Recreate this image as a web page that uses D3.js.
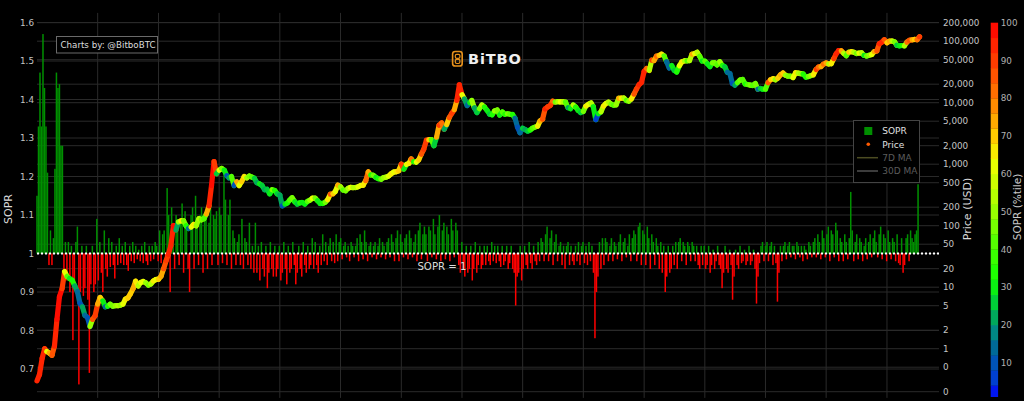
<!DOCTYPE html>
<html><head><meta charset="utf-8">
<script src="https://cdn.jsdelivr.net/npm/d3@7"></script>
<style>html,body{margin:0;padding:0;background:#000;}svg{display:block;}</style>
</head><body>
<svg id="chart" width="1024" height="401"></svg>
<script>
// ---------- DATA ----------
// Price (USD), sampled on the 1st and 16th of every month from Jan 2011
const priceValues = [
0.30,0.38,0.70,1.00,0.90,0.85,0.78,1.10,3.0,7.0,9.5,18,15,13.8,13,10.5,8.5,5.5,4.8,3.5,3.2,2.3,3.0,3.4,
5.3,6.8,6.0,4.8,4.9,5.3,4.9,5.0,5.0,5.1,5.3,6.4,6.7,7.8,9.5,12.5,10.5,11.9,12.4,11.8,10.8,11.3,12.6,13.3,
13.5,15,20,27,34,47,100,85,115,120,120,100,90,95,105,100,130,125,130,155,210,450,1100,700,
800,850,800,650,600,630,450,520,450,520,630,600,640,620,590,500,480,450,385,390,330,385,375,330,
315,210,225,235,260,285,245,225,235,238,225,248,260,280,280,255,230,230,240,265,325,330,360,455,
430,380,370,405,420,415,418,430,450,455,540,750,670,660,610,580,570,605,615,640,700,745,755,780,
1000,830,990,1035,1220,1100,1080,1180,1450,1750,2450,2500,2500,2000,2750,4300,4700,3700,4400,5700,6750,7700,10900,19500,
13500,11500,9000,10000,10900,8300,6900,8000,9200,8500,7500,6500,6350,7350,7600,6300,7050,6500,6600,6500,6400,5600,4000,3250,
3850,3650,3450,3600,3850,4000,4150,5050,5400,7900,8550,9000,10600,10200,10400,10300,10300,10200,8300,8000,9200,8500,7500,6900,
7200,8800,9400,9900,8600,5300,6600,7100,8800,9700,10200,9500,9100,9200,11800,11900,11900,10900,10600,11500,13800,16700,19600,21300,
32200,36000,33500,49000,48400,56800,58800,61400,57800,46400,36700,40200,33500,31500,39900,46000,48000,48000,48200,61500,63000,66000,57000,47600,
47300,43000,38700,44500,44400,41100,46300,40400,38500,31300,29800,20500,19300,21200,23300,23900,20100,19700,19300,19100,20500,16600,17000,16600,
16600,21100,23700,24600,23600,25000,28400,30300,28000,27000,27000,25600,30600,30300,29700,29200,26000,26600,27500,28500,34600,37900,38700,42300,
44200,42600,43100,52000,62400,70000,69700,63400,58200,66200,67500,66100,62900,64100,64600,58900,57300,59100,60600,67600,69500,91000,96400,106000,
94400,100000,100600,97500,86000,84000,85000,84000,96500,103500,105000,106800,105700,118000
];
// SOPR percentile (colour of each price sample)
const pricePercentile = [
95,95,92,90,60,75,85,95,98,98,90,60,40,30,35,20,15,10,20,15,10,50,85,88,
75,70,30,15,35,45,45,50,55,50,60,65,70,70,75,65,55,60,60,50,45,55,65,62,
70,75,85,88,92,95,97,20,50,65,45,35,15,60,65,50,55,45,40,75,95,98,90,25,
60,45,30,10,20,40,10,75,60,70,65,50,45,40,25,20,30,25,20,25,30,45,35,25,
20,10,30,35,40,45,30,25,35,30,30,40,50,60,45,30,30,35,45,65,85,70,60,75,
50,40,45,55,60,55,55,60,60,65,80,75,35,45,30,35,45,50,55,60,65,60,65,70,
90,30,60,65,80,35,60,70,85,90,88,70,40,25,75,88,80,20,70,85,88,75,92,95,
60,20,15,30,50,20,25,45,55,35,30,25,35,50,45,30,40,35,45,40,35,15,10,15,
25,20,25,35,40,45,65,75,85,95,90,88,80,45,55,60,55,40,20,30,55,35,30,25,
45,65,60,55,30,5,30,55,65,60,55,45,40,50,75,65,55,40,50,65,85,90,92,95,
95,80,55,90,75,80,70,65,40,15,15,30,25,35,60,65,55,40,55,75,60,55,40,30,
40,30,30,45,45,40,50,35,25,15,15,10,20,40,45,40,35,40,45,40,45,15,25,30,
40,85,70,65,50,70,75,70,50,45,45,60,65,55,50,35,35,45,50,65,88,80,75,80,
75,55,65,88,95,92,75,55,40,70,65,55,45,60,55,30,45,50,60,75,85,95,92,85,
70,75,55,45,25,30,35,55,80,85,75,70,80,90
];
// SOPR, one reading every 9 days from 1 Jan 2011
const soprStepDays = 9;
const soprValues = [
1.15,1.33,1.47,1.33,1.57,1.43,1.33,1.21,0.97,1.06,0.97,1.04,1.22,1.47,1.43,1.44,1.28,1.28,0.935,1.03,
0.93,1.03,0.90,1.02,0.775,0.92,1.03,1.07,0.66,0.90,1.02,0.89,0.91,1.02,0.88,0.69,0.92,1.02,0.90,0.92,
1.09,0.93,1.03,0.95,0.90,1.06,0.96,0.94,1.04,0.965,1.03,0.97,0.935,1.02,0.97,1.04,0.975,1.02,0.97,1.03,
0.97,0.955,1.02,0.98,1.03,0.975,1.02,0.985,1.01,0.98,1.02,0.975,1.03,0.98,0.97,1.02,0.98,1.02,0.985,1.03,
1.02,0.98,1.06,0.975,1.05,1.06,0.97,1.17,1.10,0.90,1.12,1.08,0.96,1.10,1.07,0.97,1.09,1.13,0.95,1.11,
1.08,0.96,0.90,1.10,1.12,0.96,1.15,1.09,0.97,1.10,1.12,0.95,1.09,1.11,0.96,1.08,1.13,0.97,1.10,1.09,
1.11,0.97,1.12,1.10,0.975,1.21,1.14,0.97,1.10,1.14,0.96,1.06,1.04,0.97,1.03,1.05,0.97,1.09,0.96,1.04,
1.03,0.97,1.08,0.96,1.02,0.95,1.08,0.95,1.02,0.93,1.03,0.96,0.94,1.02,0.91,0.95,1.03,0.96,0.94,1.02,
0.94,0.96,1.02,0.93,0.95,1.03,0.96,0.92,1.02,0.95,0.96,1.03,0.97,0.92,0.95,1.02,0.96,0.94,1.03,0.97,
0.95,1.02,0.96,0.97,1.04,0.96,1.03,0.97,0.95,1.02,0.97,1.05,0.98,1.03,0.97,1.02,1.04,0.98,1.03,0.975,
1.05,0.98,1.03,1.04,0.985,1.02,1.03,0.99,1.02,0.98,1.03,1.02,0.99,1.02,1.04,0.98,1.05,1.03,0.985,1.06,
1.03,0.98,1.02,1.03,0.99,1.02,1.03,0.985,1.02,1.04,0.99,1.03,1.02,0.985,1.03,1.04,0.99,1.05,1.03,0.98,
1.04,1.06,0.98,1.05,1.03,0.99,1.04,1.05,0.985,1.06,1.04,0.99,1.03,1.05,0.98,1.06,1.08,0.985,1.05,1.07,
1.05,0.98,1.07,1.06,0.99,1.09,1.05,0.985,1.07,1.10,0.98,1.06,1.08,0.985,1.07,1.05,0.98,1.09,1.06,0.99,
1.08,1.06,0.97,0.95,1.03,0.96,0.94,1.02,0.95,0.96,1.02,0.93,0.96,1.03,0.95,0.97,1.02,0.96,0.97,1.02,
0.97,1.02,0.98,0.97,1.03,0.98,1.02,0.975,1.02,0.98,0.965,1.02,0.97,0.98,1.02,0.96,0.975,1.02,0.96,0.95,
0.865,0.94,0.95,1.02,0.93,0.96,1.02,0.97,0.96,1.03,0.975,0.96,1.02,0.98,0.97,1.03,0.98,1.04,1.03,0.98,
1.05,1.07,0.98,1.04,1.06,0.97,1.03,1.05,0.98,1.02,1.03,0.97,1.02,0.96,1.02,1.03,0.97,1.02,0.98,0.97,
1.02,0.98,1.03,0.97,1.02,1.03,0.975,1.02,0.97,1.03,0.98,1.02,0.95,0.78,0.90,0.94,1.03,0.96,1.04,0.97,
1.04,1.03,0.98,1.02,1.04,0.98,1.03,1.02,0.985,1.03,1.05,0.98,1.03,1.04,0.99,1.02,1.05,0.98,1.04,1.06,
1.05,0.98,1.07,1.08,0.97,1.06,1.05,0.97,1.07,1.04,0.96,1.05,1.03,0.97,1.04,1.02,0.96,1.03,0.95,1.02,
0.90,0.94,1.02,0.95,0.96,1.02,0.97,1.03,0.96,1.03,1.04,0.98,1.03,1.02,0.97,1.03,1.02,0.98,1.03,1.02,
0.98,1.02,0.97,0.96,1.02,0.97,1.02,0.96,0.97,1.02,0.95,0.97,1.01,0.96,0.98,1.02,0.97,0.96,0.91,0.95,
1.02,0.96,0.95,1.01,0.97,0.88,0.94,1.01,0.97,0.96,1.02,0.975,0.98,1.01,0.97,0.98,1.02,0.97,0.98,1.01,
0.96,0.87,0.94,0.975,1.02,1.03,0.98,1.02,1.03,0.98,1.02,1.03,0.97,1.02,0.975,0.875,0.95,1.02,0.98,1.02,
1.03,0.985,1.02,1.03,0.99,1.02,1.02,0.985,1.03,1.02,0.99,1.02,0.98,1.02,1.01,0.985,1.03,1.02,0.99,1.03,
1.04,0.99,1.05,1.03,0.985,1.06,1.04,0.99,1.05,1.07,0.98,1.06,1.05,0.99,1.08,1.06,0.98,1.04,1.03,0.98,
1.05,1.03,0.985,1.04,1.16,1.06,0.98,1.03,1.05,0.985,1.04,1.03,0.98,1.02,1.04,0.985,1.03,1.05,0.99,1.04,
1.06,1.03,0.99,1.05,1.07,0.985,1.05,1.04,0.98,1.06,1.03,0.985,1.04,1.03,0.98,1.05,0.975,0.97,1.04,0.95,
0.97,1.04,1.05,0.98,1.06,1.04,1.03,1.05,1.06,1.18
];
const soprTicks = [0.7,0.8,0.9,1,1.1,1.2,1.3,1.4,1.5,1.6];
const soprTickLabels = ["0.7","0.8","0.9","1","1.1","1.2","1.3","1.4","1.5","1.6"];
const priceTicks = [0.2,0.5,1,2,5,10,20,50,100,200,500,1000,2000,5000,10000,20000,50000,100000,200000];
const priceTickLabels = ["0","0","1","2","5","10","20","50","100","200","500","1,000","2,000","5,000","10,000","20,000","50,000","100,000","200,000"];
const yearGridLines = [2012,2013,2014,2015,2016,2017,2018,2019,2020,2021,2022,2023,2024,2025];
const colorbarTicks = [10,20,30,40,50,60,70,80,90,100];
const colorStops = [0,6,11,15,19,23,27,32,42,51,57,63,68,76,84,92,100];
const colorHex = ["#0000ff","#0040d0","#0058b0","#007090","#009080","#00b050","#00d830","#10ff00","#55ff00","#a0ff00","#c8ff00","#eeff00","#ffdd00","#ff9900","#ff6000","#ff3000","#ff0000"];
const legendItems = ["SOPR","Price","7D MA","30D MA"];

// ---------- CHART ----------
const svg = d3.select("#chart");
const L = 37, R = 939, T = 12.9, B = 397.9;
const FONT = "'DejaVu Sans', Verdana, sans-serif";
const x = d3.scaleUtc().domain([Date.UTC(2011,0,1), Date.UTC(2025,10,10)]).range([L, R]);
const yS = d3.scaleLinear().domain([0.625, 1.625]).range([B, T]);
const yP = d3.scaleLog().domain([0.1585, 288400]).range([B, T]);
const cInterp = d3.scaleLinear().domain(colorStops).range(colorHex).interpolate(d3.interpolateRgb).clamp(true);
const band = 4;
const pctColor = p => cInterp(Math.min(98, Math.floor(p / band) * band + band / 2));

svg.append("rect").attr("width",1024).attr("height",401).attr("fill","#000");

// grid
const grid = svg.append("g").attr("stroke","#2a2a2a").attr("stroke-width",1);
soprTicks.forEach(t => grid.append("line").attr("x1",L).attr("x2",R).attr("y1",yS(t)).attr("y2",yS(t)));
priceTicks.forEach(t => grid.append("line").attr("x1",L).attr("x2",R).attr("y1",yP(t)).attr("y2",yP(t)));
yearGridLines.forEach(yr => { const xx = x(Date.UTC(yr,0,1)); grid.append("line").attr("x1",xx).attr("x2",xx).attr("y1",T).attr("y2",B); });

// SOPR bars
const t0 = Date.UTC(2011,0,1);
const bars = svg.append("g");
soprValues.forEach((v,i) => {
  const xx = x(t0 + i*soprStepDays*864e5);
  const ya = yS(Math.max(v,1)), yb = yS(Math.min(v,1));
  bars.append("rect").attr("x",xx-0.75).attr("width",1.5).attr("y",ya).attr("height",Math.max(0.5,yb-ya))
    .attr("fill", v >= 1 ? "#009000" : "#ff0000");
});

// SOPR = 1 line
svg.append("line").attr("x1",L).attr("x2",R).attr("y1",yS(1)).attr("y2",yS(1))
  .attr("stroke","#fff").attr("stroke-width",2).attr("stroke-dasharray","2,2");

// price
const pts = priceValues.map((v,i) => ({
  t: Date.UTC(2011 + Math.floor(i/24), Math.floor((i%24)/2), (i%2) ? 16 : 1), v, p: pricePercentile[i] }));
const pg = svg.append("g").attr("stroke-linecap","round");
for (let i = 0; i < pts.length - 1; i++) {
  pg.append("line").attr("x1",x(pts[i].t)).attr("y1",yP(pts[i].v)).attr("x2",x(pts[i+1].t)).attr("y2",yP(pts[i+1].v))
    .attr("stroke",pctColor(pts[i].p)).attr("stroke-width",5.2);
}
const lp = pts[pts.length-1];
pg.append("circle").attr("cx",x(lp.t)).attr("cy",yP(lp.v)).attr("r",2.6).attr("fill",pctColor(lp.p));

// axes labels
const ax = svg.append("g").attr("font-family",FONT).attr("font-size",8.8).attr("fill","#c4c4c4");
soprTicks.forEach((t,i) => ax.append("text").attr("x",34).attr("y",yS(t)+3.2).attr("text-anchor","end").text(soprTickLabels[i]));
priceTicks.forEach((t,i) => ax.append("text").attr("x",943).attr("y",yP(t)+3.2).text(priceTickLabels[i]));

// axis titles
svg.append("text").attr("transform","translate(11.7,209) rotate(-90)").attr("text-anchor","middle")
  .attr("font-family",FONT).attr("font-size",11).attr("fill","#d8d8d8").text("SOPR");
svg.append("text").attr("transform","translate(971,209) rotate(-90)").attr("text-anchor","middle")
  .attr("font-family",FONT).attr("font-size",11).attr("fill","#d8d8d8").text("Price (USD)");

// colorbar
const yC = d3.scaleLinear().domain([1,100]).range([396.7, 22.7]);
const cb = svg.append("g");
for (let b = 0; b < 100; b += band) {
  const y1 = yC(Math.min(100, b + band)), y0 = yC(Math.max(1, b));
  cb.append("rect").attr("x",990.7).attr("width",7.4).attr("y",y1).attr("height",y0-y1+0.3).attr("fill",cInterp(b + band/2));
}
colorbarTicks.forEach(t => cb.append("text").attr("x",1000.7).attr("y",yC(t)+3.2)
  .attr("font-family",FONT).attr("font-size",8.8).attr("fill","#b0b0b0").text(t));
svg.append("text").attr("transform","translate(1020.5,207) rotate(-90)").attr("text-anchor","middle")
  .attr("font-family",FONT).attr("font-size",10.5).attr("fill","#c8c8c8").text("SOPR (%tile)");

// annotation
svg.append("text").attr("x",442).attr("y",269.5).attr("text-anchor","middle").attr("font-family",FONT)
  .attr("font-size",10.2).attr("fill","#dcdcdc").text("SOPR = 1");

// credit box
svg.append("rect").attr("x",56.5).attr("y",36.5).attr("width",101).attr("height",16.5).attr("fill","#000").attr("stroke","#6a6a6a");
svg.append("text").attr("x",60.5).attr("y",48).attr("font-family",FONT).attr("font-size",8.7).attr("fill","#dddddd").text("Charts by: @BitboBTC");

// logo
const logo = svg.append("g").attr("fill","none").attr("stroke","#e8921c");
logo.append("rect").attr("x",452.6).attr("y",51.5).attr("width",9.6).attr("height",14.5).attr("rx",2.6).attr("stroke-width",1.6);
logo.append("rect").attr("x",455.3).attr("y",54.4).attr("width",4.6).attr("height",3.9).attr("rx",1.4).attr("stroke-width",1.2);
logo.append("rect").attr("x",455.3).attr("y",59.3).attr("width",4.6).attr("height",4.2).attr("rx",1.4).attr("stroke-width",1.2);
svg.append("text").attr("x",468).attr("y",63.5).attr("font-family",FONT).attr("font-weight","bold")
  .attr("font-size",14.5).attr("letter-spacing",0.9).attr("fill","#f0f0f0").text("BiTBO");

// legend
const lg = svg.append("g");
lg.append("rect").attr("x",853.5).attr("y",120.5).attr("width",66).attr("height",62).attr("fill","#000").attr("stroke","#444");
const rows = [131, 144.3, 157.7, 171];
lg.append("rect").attr("x",864.3).attr("y",127).attr("width",8).attr("height",8).attr("fill","#008f00");
lg.append("circle").attr("cx",868.3).attr("cy",rows[1]).attr("r",1.8).attr("fill","#ff5a00");
lg.append("line").attr("x1",857).attr("x2",878).attr("y1",rows[2]).attr("y2",rows[2]).attr("stroke","#4c4c22").attr("stroke-width",1.5);
lg.append("line").attr("x1",857).attr("x2",878).attr("y1",rows[3]).attr("y2",rows[3]).attr("stroke","#505050").attr("stroke-width",1.5);
legendItems.forEach((s,i) => lg.append("text").attr("x",882.3).attr("y",rows[i]+3.2).attr("font-family",FONT)
  .attr("font-size",9).attr("fill", i < 2 ? "#e0e0e0" : "#5c5c5c").text(s));
</script>
</body></html>
